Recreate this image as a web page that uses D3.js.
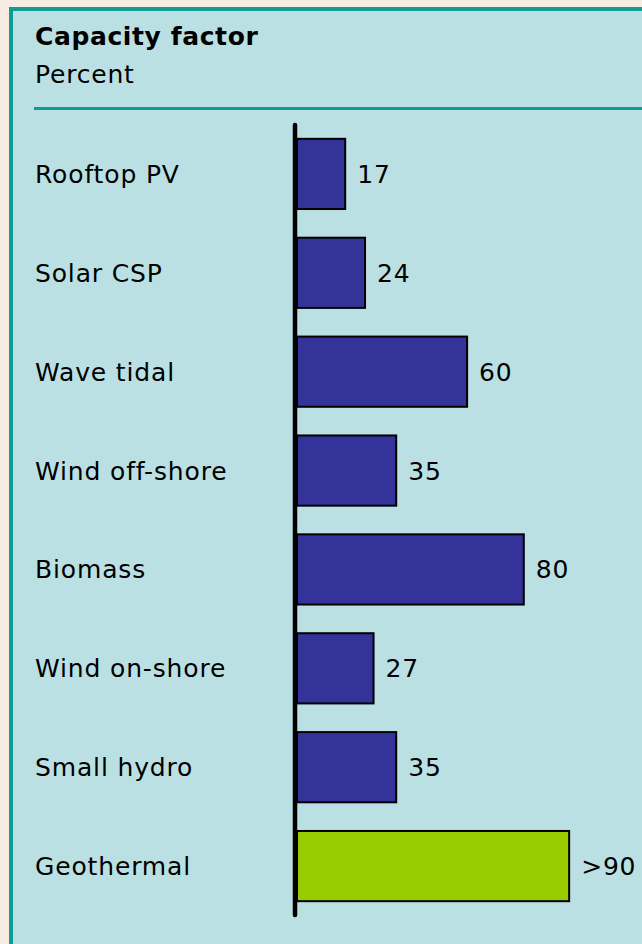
<!DOCTYPE html>
<html>
<head>
<meta charset="utf-8">
<script src="https://cdn.jsdelivr.net/npm/d3@7"></script>
<style>
  body { margin: 0; background: #f6ece2; }
  svg { display: block; font-family: "DejaVu Sans", Verdana, sans-serif; }
</style>
</head>
<body>
<svg id="chart" width="642" height="944"></svg>
<script>
// chart data
const categories = ["Rooftop PV", "Solar CSP", "Wave tidal", "Wind off-shore",
  "Biomass", "Wind on-shore", "Small hydro", "Geothermal"];
const values = [17, 24, 60, 35, 80, 27, 35, 96];
const valueLabels = ["17", "24", "60", "35", "80", "27", "35", ">90"];
const highlighted = ["Geothermal"];

const svg = d3.select("#chart");
const teal = "#0e9c96";

// panel
svg.append("rect")
  .attr("x", 11).attr("y", 9)
  .attr("width", 660).attr("height", 960)
  .style("fill", "#bbe0e3")
  .style("stroke", teal)
  .style("stroke-width", 4);

svg.append("text")
  .attr("x", 35).attr("y", 45)
  .attr("font-size", "25px")
  .attr("font-weight", "bold")
  .attr("letter-spacing", "0.6px")
  .text("Capacity factor");
svg.append("text")
  .attr("x", 35).attr("y", 83)
  .attr("font-size", "25px")
  .attr("letter-spacing", "0.8px")
  .text("Percent");

svg.append("line")
  .attr("x1", 34).attr("x2", 642)
  .attr("y1", 108.5).attr("y2", 108.5)
  .style("stroke", teal)
  .style("stroke-width", 3);

const x = d3.scaleLinear().domain([0, 100]).range([297, 580.5]);
const y = d3.scaleBand()
  .domain(categories)
  .range([123, 917])
  .paddingInner(0.29)
  .paddingOuter(0.16);

const rows = categories.map((c, i) => ({cat: c, value: values[i], label: valueLabels[i]}));

const g = svg.append("g");

g.selectAll("text.cat")
  .data(rows)
  .join("text")
  .attr("class", "cat")
  .attr("x", 35)
  .attr("y", d => y(d.cat) + y.bandwidth() / 2)
  .attr("dy", "0.36em")
  .attr("font-size", "25px")
  .attr("letter-spacing", "0.85px")
  .text(d => d.cat);

g.selectAll("rect.bar")
  .data(rows)
  .join("rect")
  .attr("class", "bar")
  .attr("x", x(0))
  .attr("y", d => y(d.cat))
  .attr("width", d => x(d.value) - x(0))
  .attr("height", y.bandwidth())
  .style("fill", d => highlighted.includes(d.cat) ? "#99cc00" : "#333399")
  .style("stroke", "#000")
  .style("stroke-width", 2);

g.selectAll("text.val")
  .data(rows)
  .join("text")
  .attr("class", "val")
  .attr("x", d => x(d.value) + 12)
  .attr("y", d => y(d.cat) + y.bandwidth() / 2)
  .attr("dy", "0.36em")
  .attr("font-size", "25px")
  .attr("letter-spacing", "0.8px")
  .text(d => d.label);

// vertical axis line
svg.append("line")
  .attr("x1", 295).attr("x2", 295)
  .attr("y1", 125).attr("y2", 915)
  .style("stroke", "#000")
  .style("stroke-width", 4.5)
  .style("stroke-linecap", "round");
</script>
</body>
</html>
